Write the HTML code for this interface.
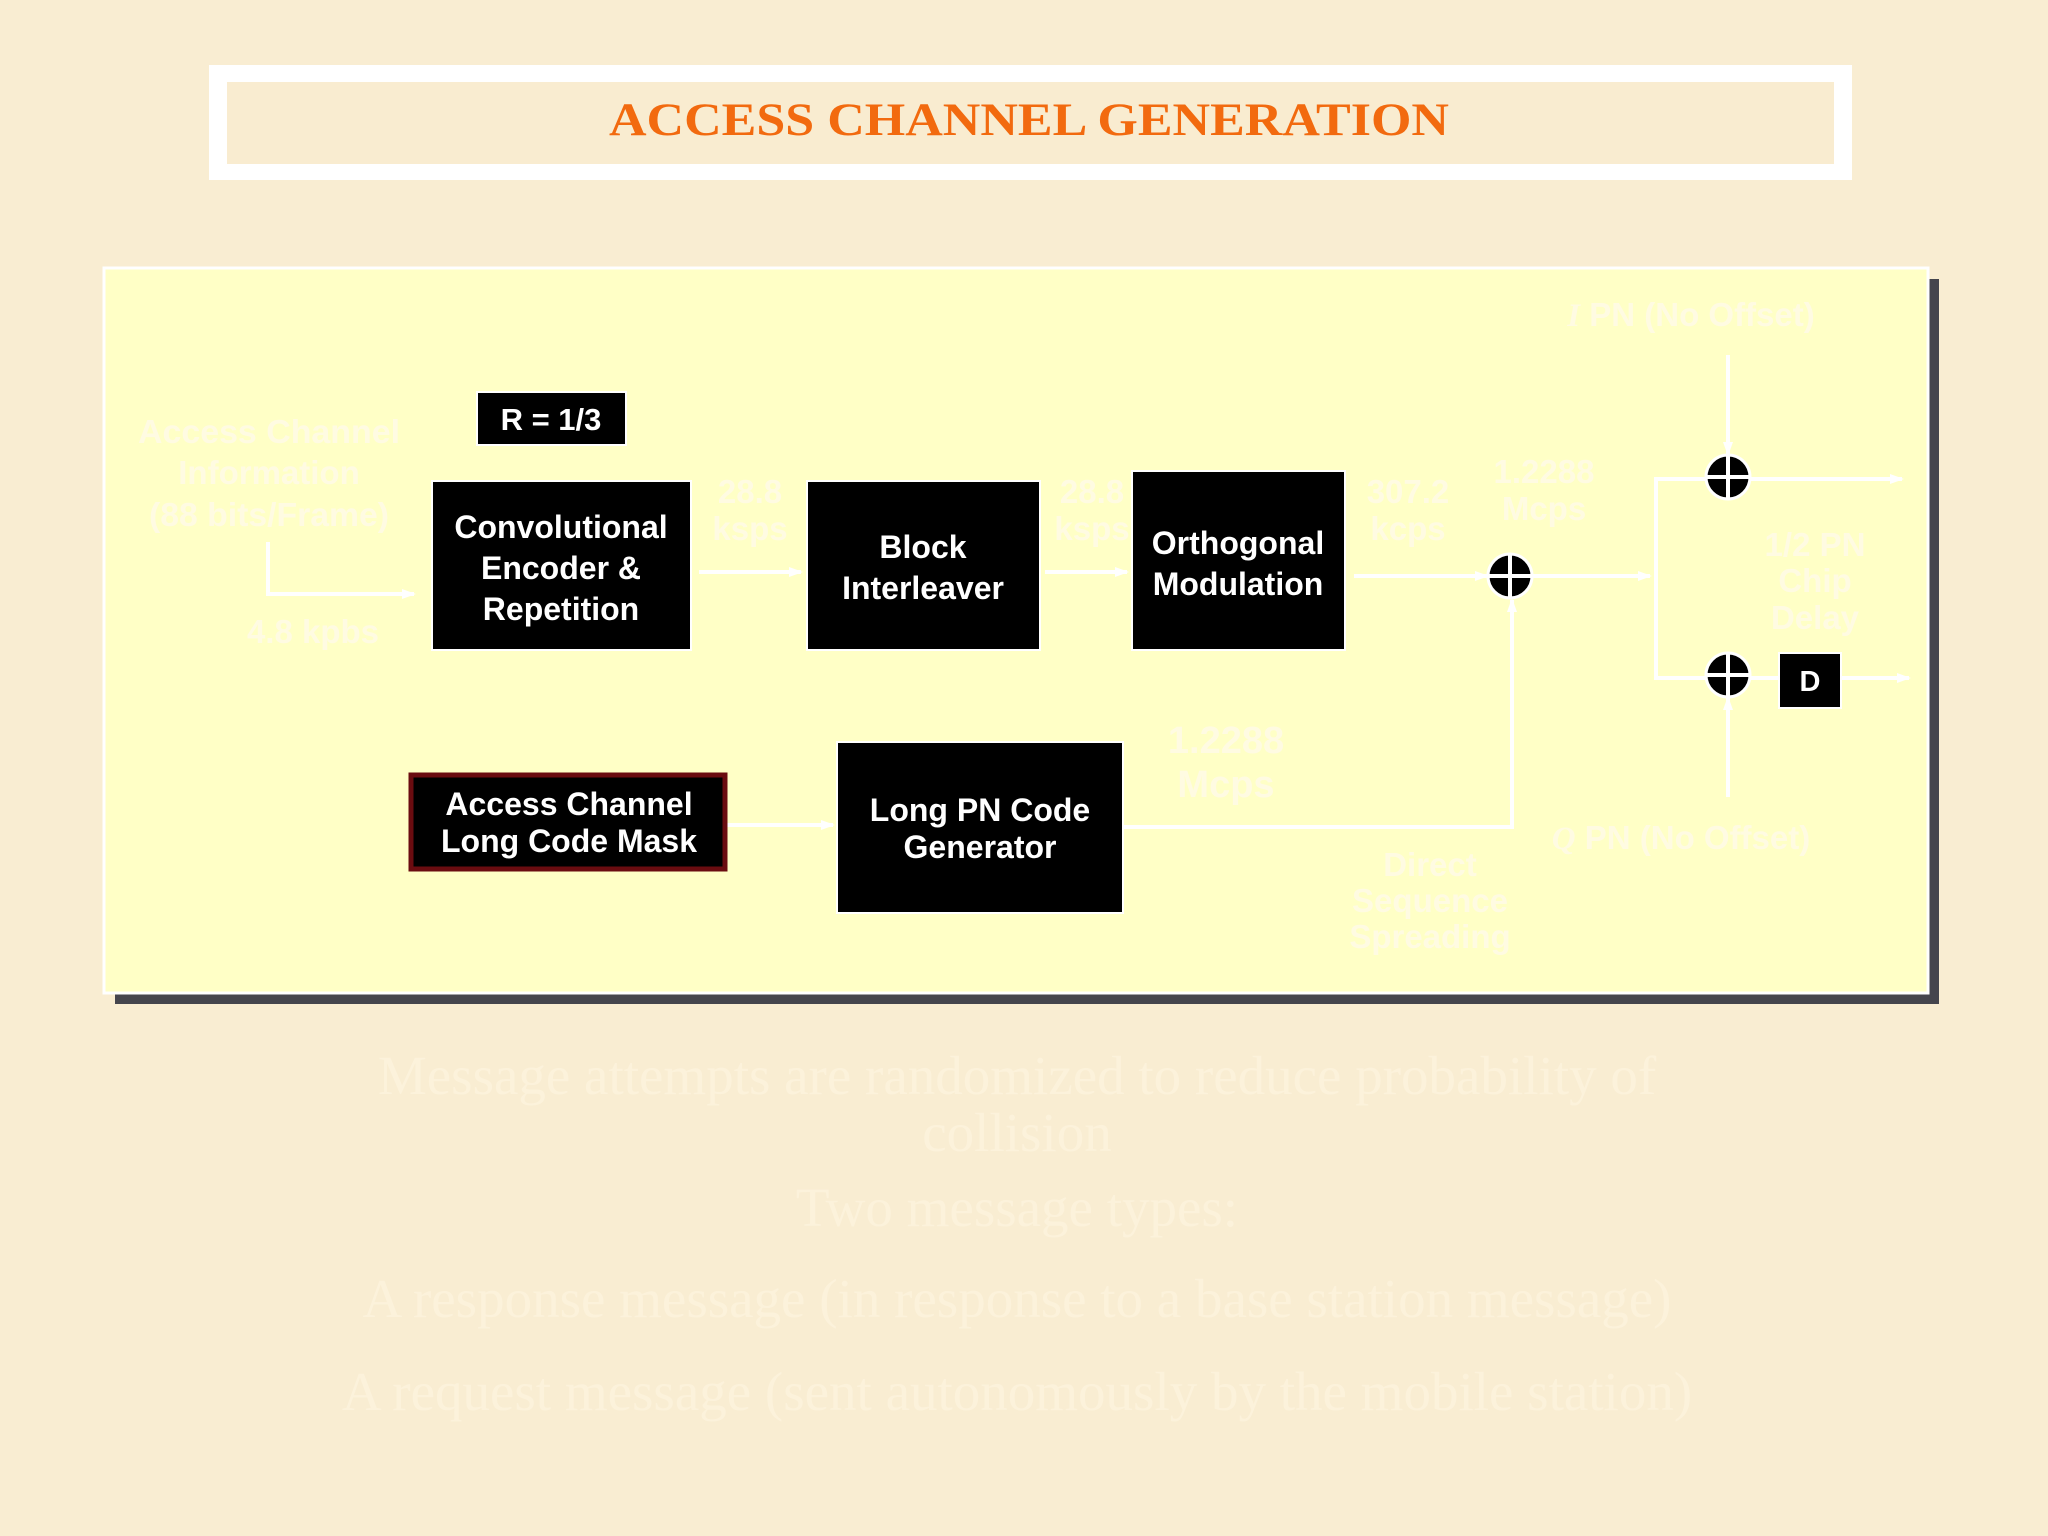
<!DOCTYPE html>
<html><head><meta charset="utf-8"><style>
html,body{margin:0;padding:0;background:#f9edd2;}
svg{display:block}
</style></head><body>
<svg width="2048" height="1536" viewBox="0 0 2048 1536" xmlns="http://www.w3.org/2000/svg">
<defs>
<marker id="ar" markerWidth="14" markerHeight="14" refX="12" refY="7" orient="auto" markerUnits="userSpaceOnUse">
<path d="M0,2 L14,7 L0,12 z" fill="#ffffff"/></marker>
</defs>
<rect width="2048" height="1536" fill="#f9edd2"/>
<!-- title -->
<rect x="209" y="65" width="1643" height="115" fill="#ffffff"/>
<rect x="227" y="82" width="1607" height="82" fill="#f9ecd0"/>
<text x="1029" y="135" text-anchor="middle" font-family="Liberation Serif, serif" font-weight="bold" font-size="47" fill="#f26a0f" textLength="840" lengthAdjust="spacingAndGlyphs">ACCESS CHANNEL GENERATION</text>
<!-- panel -->
<rect x="115" y="279" width="1824" height="725" fill="#45454d"/>
<rect x="104" y="268" width="1824" height="725" fill="#ffffc6" stroke="#ffffff" stroke-width="3"/>
<g font-family="Liberation Sans, Arial, sans-serif" font-weight="bold" text-anchor="middle">
<!-- faint labels -->
<g fill="#fffbe2" font-size="33">
<text x="269" y="443" textLength="262" lengthAdjust="spacingAndGlyphs">Access Channel</text>
<text x="269" y="484">Information</text>
<text x="269" y="526" textLength="240" lengthAdjust="spacingAndGlyphs">(88 bits/Frame)</text>
<text x="313" y="643">4.8 kpbs</text>
<text x="750" y="503">28.8</text><text x="750" y="540">ksps</text>
<text x="1092" y="503">28.8</text><text x="1092" y="540">ksps</text>
<text x="1408" y="503">307.2</text><text x="1408" y="540">kcps</text>
<text x="1544" y="483">1.2288</text><text x="1544" y="520">Mcps</text>
<text x="1691" y="326"><tspan font-style="italic" font-family="Liberation Serif, serif">I</tspan> PN (No Offset)</text>
<text x="1815" y="556">1/2 PN</text><text x="1815" y="592">Chip</text><text x="1815" y="629">Delay</text>
<text x="1681" y="849"><tspan font-style="italic" font-family="Liberation Serif, serif">Q</tspan> PN (No Offset)</text>
<text x="1430" y="876">Direct</text><text x="1430" y="912">Sequence</text><text x="1430" y="948">Spreading</text>
<text x="1226" y="753" font-size="38">1.2288</text><text x="1226" y="797" font-size="38">Mcps</text>
</g>
<!-- lines -->
<g stroke="#ffffff" stroke-width="4" fill="none">
<polyline points="268,542 268,594 414,594" marker-end="url(#ar)"/>
<line x1="699" y1="572" x2="801" y2="572" marker-end="url(#ar)"/>
<line x1="1045" y1="572" x2="1127" y2="572" marker-end="url(#ar)"/>
<line x1="1354" y1="576" x2="1487" y2="576" marker-end="url(#ar)"/>
<line x1="1531" y1="576" x2="1650" y2="576" marker-end="url(#ar)"/>
<polyline points="1749,479 1656,479 1656,678 1779,678"/>
<line x1="1749" y1="479" x2="1902" y2="479" marker-end="url(#ar)"/>
<line x1="1841" y1="678" x2="1909" y2="678" marker-end="url(#ar)"/>
<line x1="1728" y1="355" x2="1728" y2="454" marker-end="url(#ar)"/>
<line x1="1728" y1="797" x2="1728" y2="698" marker-end="url(#ar)"/>
<line x1="727" y1="825" x2="833" y2="825" marker-end="url(#ar)"/>
<polyline points="1123,827 1512,827 1512,600" marker-end="url(#ar)"/>
</g>
<!-- xor circles -->
<g>
<circle cx="1510" cy="576" r="22" fill="#000" stroke="#fff" stroke-width="3"/>
<path d="M1488,576 H1532 M1510,554 V598" stroke="#fff" stroke-width="4"/>
<circle cx="1728" cy="477" r="22" fill="#000" stroke="#fff" stroke-width="3"/>
<path d="M1706,477 H1750 M1728,455 V499" stroke="#fff" stroke-width="4"/>
<circle cx="1728" cy="675" r="22" fill="#000" stroke="#fff" stroke-width="3"/>
<path d="M1706,675 H1750 M1728,653 V697" stroke="#fff" stroke-width="4"/>
</g>
<!-- boxes -->
<rect x="477" y="392" width="149" height="53" fill="#000" stroke="#fff" stroke-width="2"/>
<text x="551" y="430" font-size="31" fill="#fff">R = 1/3</text>
<rect x="432" y="481" width="259" height="169" fill="#000" stroke="#fff" stroke-width="2"/>
<g fill="#fff" font-size="32">
<text x="561" y="538">Convolutional</text><text x="561" y="579">Encoder &amp;</text><text x="561" y="620">Repetition</text>
</g>
<rect x="807" y="481" width="233" height="169" fill="#000" stroke="#fff" stroke-width="2"/>
<g fill="#fff" font-size="32"><text x="923" y="558">Block</text><text x="923" y="599">Interleaver</text></g>
<rect x="1132" y="471" width="213" height="179" fill="#000" stroke="#fff" stroke-width="2"/>
<g fill="#fff" font-size="32"><text x="1238" y="554">Orthogonal</text><text x="1238" y="595">Modulation</text></g>
<rect x="411" y="775" width="314" height="94" fill="#000" stroke="#6a0c10" stroke-width="5"/>
<g fill="#fff" font-size="32"><text x="569" y="815">Access Channel</text><text x="569" y="852">Long Code Mask</text></g>
<rect x="837" y="742" width="286" height="171" fill="#000" stroke="#fff" stroke-width="2"/>
<g fill="#fff" font-size="32"><text x="980" y="821">Long PN Code</text><text x="980" y="858">Generator</text></g>
<rect x="1779" y="653" width="62" height="55" fill="#000" stroke="#fff" stroke-width="2"/>
<text x="1810" y="691" font-size="29" fill="#fff">D</text>
</g>
<!-- faint bottom text -->
<g font-family="Liberation Serif, serif" text-anchor="middle" fill="#fcf2db" font-size="55">
<text x="1017" y="1094">Message attempts are randomized to reduce probability of</text>
<text x="1017" y="1151">collision</text>
<text x="1017" y="1226">Two message types:</text>
<text x="1017" y="1317">A response message (in response to a base station message)</text>
<text x="1017" y="1410">A request message (sent autonomously by the mobile station)</text>
</g>
</svg>
</body></html>
